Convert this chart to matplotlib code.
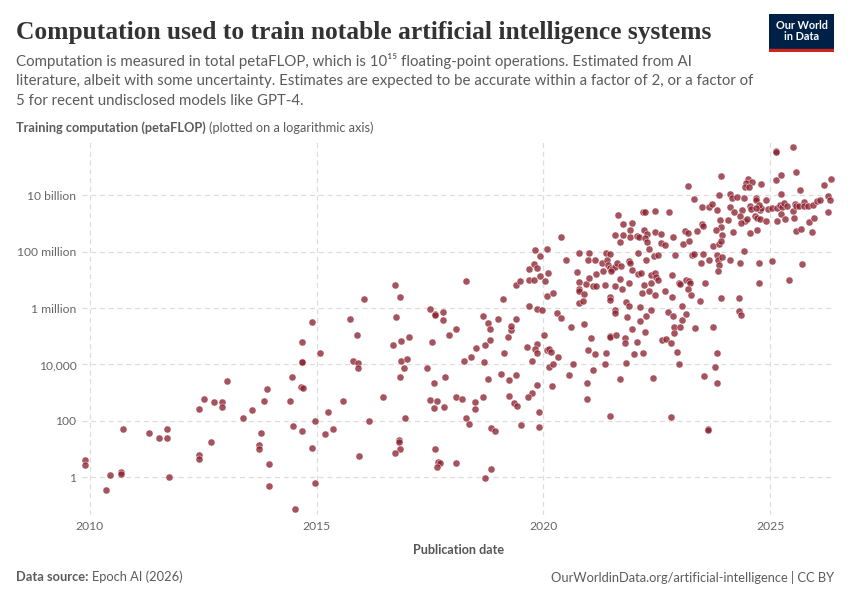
#!/usr/bin/env python3
"""
Computation used to train notable AI systems (petaFLOP, log axis), OWID style.
"""

import matplotlib
matplotlib.use('Agg')
import matplotlib.pyplot as plt
import numpy as np

# publication dates (decimal years) and log10 of training compute (petaFLOP)
years_2010s = [2009.90, 2009.90, 2010.35, 2010.44, 2010.68, 2010.68, 2010.74, 2011.30, 2011.52, 2011.70,
               2011.70, 2011.74, 2012.40, 2012.51, 2012.74, 2012.91, 2012.91, 2013.02, 2012.40, 2012.40,
               2012.67, 2013.37, 2013.57, 2013.84, 2013.90, 2013.77, 2013.73, 2013.73, 2013.95, 2013.95,
               2014.53, 2014.97, 2014.90, 2014.49, 2014.69, 2014.96, 2014.42, 2014.45, 2014.66, 2014.70,
               2014.67, 2014.67, 2014.69, 2014.90]
logc_2010s = [0.62, 0.45, -0.43, 0.07, 0.18, 0.11, 1.73, 1.59, 1.41, 1.73,
              1.41, 0.00, 2.44, 2.79, 2.68, 2.68, 2.51, 3.42, 0.81, 0.64,
              1.24, 2.12, 2.40, 2.72, 3.14, 1.59, 1.16, 0.99, 0.46, -0.32,
              -1.11, -0.19, 1.05, 1.83, 1.66, 2.01, 2.72, 3.54, 3.22, 3.18,
              4.08, 4.10, 4.78, 5.49]

years_2015 = [2015.08, 2015.26, 2015.19, 2015.37, 2015.59, 2015.74, 2015.90, 2015.81, 2015.92, 2015.92,
              2016.05, 2016.16, 2015.94, 2016.47, 2016.74, 2016.85, 2016.76, 2016.87, 2017.04, 2016.69,
              2016.87, 2017.00, 2016.93, 2016.85, 2016.96, 2016.82, 2016.82, 2016.85, 2016.74, 2017.51,
              2017.61, 2017.62, 2017.79, 2017.79, 2018.08, 2017.93, 2017.55, 2017.44, 2017.60, 2017.84,
              2017.51, 2017.65, 2017.60, 2017.82, 2018.08, 2018.21, 2017.62, 2017.68, 2017.73, 2017.66,
              2018.08, 2018.26, 2018.30, 2018.30, 2018.84, 2018.71]
logc_2015 = [4.39, 2.30, 1.55, 1.73, 2.69, 5.60, 5.03, 4.11, 4.04, 3.86,
             6.31, 2.01, 0.77, 2.86, 6.83, 6.38, 5.67, 4.82, 4.99, 4.68,
             4.11, 4.18, 3.86, 3.54, 2.12, 1.34, 1.25, 1.02, 0.88, 5.95,
             5.79, 5.76, 5.85, 5.56, 5.25, 5.03, 4.78, 3.89, 3.33, 3.54,
             2.76, 2.69, 2.47, 2.51, 2.86, 2.79, 1.02, 0.56, 0.52, 0.38,
             0.52, 4.14, 6.95, 2.12, 0.31, -0.01]

years_2018 = [2018.36, 2018.41, 2018.51, 2018.50, 2018.50, 2018.66, 2018.77, 2018.83, 2018.72, 2018.83,
              2018.70, 2018.79, 2018.66, 2018.85, 2018.94, 2019.01, 2019.12, 2019.14, 2019.07, 2019.25,
              2019.40, 2019.25, 2019.36, 2019.43, 2019.23, 2019.29, 2019.29, 2019.40, 2019.40, 2019.49,
              2019.51, 2019.63, 2019.69, 2019.69, 2019.69, 2019.80, 2019.80, 2019.82, 2019.85, 2019.93,
              2019.93, 2020.07, 2020.11, 2020.04, 2019.85, 2019.96, 2020.09, 2020.22, 2020.02, 2019.87,
              2019.82, 2019.85, 2019.74, 2019.87, 2019.74, 2019.67, 2019.91, 2019.91, 2020.09, 2020.13,
              2020.18, 2020.13, 2020.22, 2020.20, 2020.33, 2020.31, 2020.40, 2020.40, 2020.49, 2020.60,
              2020.57, 2020.66, 2020.79, 2020.75, 2020.79, 2020.79, 2020.79, 2020.79, 2020.90, 2020.88,
              2020.90, 2020.95, 2021.01, 2021.01, 2020.99, 2021.04, 2020.99, 2021.15, 2021.10, 2021.17,
              2021.17, 2021.15, 2021.10, 2020.97, 2020.97, 2021.35, 2021.32, 2021.30, 2021.39, 2021.48,
              2021.41, 2021.43, 2021.46, 2021.52, 2021.57, 2021.63, 2021.72, 2021.50, 2021.46, 2021.46,
              2021.59, 2021.59, 2021.46, 2021.48, 2021.39, 2021.37, 2021.46, 2021.57, 2021.70, 2021.74,
              2021.61, 2021.68, 2021.76, 2021.76, 2021.59, 2021.68, 2021.83, 2021.88, 2021.85, 2021.88,
              2021.88, 2021.81, 2021.79, 2021.83, 2021.64]
logc_2018 = [1.88, 4.26, 4.58, 2.66, 2.41, 5.72, 5.47, 5.25, 4.69, 4.86,
             4.08, 3.48, 2.84, 1.74, 1.63, 5.61, 6.32, 4.40, 3.66, 3.44,
             3.62, 2.88, 2.63, 2.52, 4.97, 5.22, 5.36, 5.61, 6.82, 6.96,
             1.85, 4.62, 6.07, 6.99, 7.38, 6.99, 7.56, 8.06, 7.42, 7.85,
             7.14, 8.09, 7.24, 6.96, 5.96, 5.93, 6.43, 6.53, 5.04, 4.72,
             4.54, 4.40, 4.12, 3.27, 2.98, 2.84, 2.31, 1.78, 4.51, 4.54,
             4.44, 3.91, 4.01, 3.23, 4.26, 5.82, 5.64, 8.52, 7.70, 5.33,
             3.62, 4.01, 7.95, 7.28, 6.92, 6.67, 6.60, 6.18, 6.50, 6.25,
             5.43, 6.85, 7.07, 7.95, 7.70, 4.93, 4.51, 7.70, 6.78, 6.78,
             7.21, 4.37, 3.80, 3.34, 2.77, 6.82, 7.31, 7.60, 7.95, 7.92,
             7.70, 7.53, 7.42, 7.38, 7.46, 7.60, 7.49, 7.31, 6.39, 6.28,
             5.93, 5.82, 5.01, 4.97, 4.40, 4.01, 2.17, 6.78, 7.03, 6.67,
             5.04, 3.48, 8.97, 8.59, 8.59, 8.34, 6.21, 6.07, 5.68, 7.67,
             6.89, 4.93, 4.76, 4.05, 9.30]

years_2022 = [2023.19, 2023.91, 2023.33, 2023.87, 2022.19, 2022.24, 2022.46, 2022.77, 2023.49, 2023.65,
              2023.71, 2023.82, 2024.11, 2023.89, 2024.07, 2021.96, 2023.49, 2023.52, 2023.38, 2023.12,
              2023.19, 2023.91, 2023.80, 2022.22, 2022.46, 2022.59, 2021.91, 2021.91, 2022.06, 2022.10,
              2022.28, 2022.24, 2022.86, 2023.93,
              2022.28, 2022.59, 2022.68, 2023.08, 2023.21, 2023.74, 2023.87, 2023.91, 2022.33, 2022.09,
              2022.44, 2022.53, 2022.90, 2023.28, 2023.33, 2023.52, 2023.65, 2023.47, 2023.83, 2023.85,
              2023.87, 2023.94, 2023.85, 2022.26, 2021.91, 2021.96, 2022.09, 2022.15, 2022.38, 2022.47,
              2022.49, 2022.52, 2022.83, 2023.00, 2023.01, 2023.15, 2023.21, 2023.24, 2023.19, 2023.25,
              2023.56, 2023.45, 2023.91, 2022.21, 2022.18, 2022.37, 2022.33, 2022.47, 2022.69, 2022.83,
              2022.13, 2022.37, 2022.27, 2022.13, 2021.96, 2022.24, 2022.75, 2022.86, 2023.06, 2023.15,
              2023.06, 2022.87, 2022.87, 2023.02, 2023.34, 2023.74, 2022.62, 2022.71, 2022.81, 2022.06,
              2021.99, 2022.19, 2022.94, 2023.83, 2022.99, 2023.78, 2022.41, 2023.54, 2023.83, 2022.81,
              2023.63, 2023.64]
logc_2022 = [10.33, 10.68, 9.86, 10.01, 9.41, 9.41, 9.45, 9.41, 9.59, 9.59,
             9.69, 9.48, 9.59, 9.13, 9.13, 9.02, 8.99, 8.91, 8.74, 8.74,
             8.67, 8.88, 8.77, 8.77, 8.70, 8.63, 8.78, 8.52, 8.56, 8.52,
             8.63, 8.49, 8.52, 8.60,
             8.35, 8.31, 8.24, 8.28, 8.38, 8.21, 8.28, 8.38, 8.10, 7.96,
             7.85, 7.89, 7.89, 7.89, 7.92, 7.92, 7.71, 7.60, 7.89, 7.70,
             7.53, 7.82, 7.32, 7.71, 7.60, 7.35, 7.21, 7.25, 7.18, 7.25,
             7.11, 7.00, 7.18, 6.87, 6.85, 6.99, 6.97, 6.87, 6.68, 6.47,
             6.90, 6.26, 6.37, 6.83, 6.54, 6.87, 6.61, 6.45, 6.61, 6.40,
             6.05, 5.93, 5.73, 5.54, 5.26, 5.16, 5.87, 5.73, 6.08, 5.80,
             5.56, 5.34, 5.13, 5.34, 5.28, 5.34, 4.85, 4.90, 4.77, 4.81,
             4.38, 4.42, 4.45, 4.42, 4.03, 3.92, 3.53, 3.60, 3.36, 2.15,
             1.70, 1.68]

years_2024 = [2025.12, 2025.13, 2025.50, 2025.57, 2025.24, 2025.13, 2024.52, 2024.47, 2024.59, 2024.44,
              2024.54, 2024.80, 2025.66, 2026.18, 2026.35, 2025.24, 2026.27, 2024.12, 2024.16, 2024.27,
              2024.43, 2024.69, 2024.69, 2024.91, 2026.31, 2024.20, 2024.39, 2024.55, 2024.57, 2024.77,
              2024.80, 2024.75, 2024.68, 2024.95, 2025.04, 2025.15, 2025.21, 2025.26, 2025.31, 2025.38,
              2025.50, 2025.55, 2025.57, 2025.63, 2025.74, 2025.74, 2025.83, 2025.94, 2026.04, 2026.09,
              2024.33, 2024.45, 2024.48, 2024.66, 2024.71, 2024.77, 2024.90, 2025.16, 2025.24, 2025.32,
              2025.52, 2025.85, 2025.96, 2026.27, 2024.35, 2024.55, 2024.71, 2025.57, 2025.68, 2025.92,
              2024.18,
              2024.42, 2024.12, 2024.33, 2024.75, 2025.04, 2025.70, 2024.75, 2025.41, 2024.32, 2024.31,
              2024.35]
logc_2024 = [11.56, 11.53, 11.71, 10.81, 10.72, 10.54, 10.57, 10.44, 10.46, 10.27,
             10.30, 10.40, 10.19, 10.37, 10.58, 10.05, 9.98, 10.05, 9.91, 9.92,
             9.91, 9.90, 9.83, 9.82, 9.82, 9.41, 9.48, 9.63, 9.50, 9.48,
             9.53, 9.66, 9.53, 9.52, 9.54, 9.55, 9.65, 9.56, 9.72, 9.61,
             9.44, 9.70, 9.61, 9.61, 9.74, 9.61, 9.63, 9.65, 9.78, 9.82,
             9.27, 9.08, 9.15, 9.26, 9.19, 9.16, 9.09, 9.09, 9.34, 9.16,
             9.19, 9.04, 9.20, 9.41, 9.02, 8.67, 8.77, 8.74, 8.81, 8.70,
             8.70,
             8.02, 7.71, 7.60, 7.60, 7.68, 7.57, 6.90, 7.00, 6.37, 5.91,
             5.75]

tick_values = [1, 100, 1e4, 1e6, 1e8, 1e10]
tick_labels = ['1', '100', '10,000', '1 million', '100 million', '10 billion']
year_ticks = [2010, 2015, 2020, 2025]

W, H = 850, 600
TEXT = '#5b5b5b'
DOT = '#8c2230'


def fx(px):
    return px / W


def fy(py):
    return 1 - py / H


def chart():
    years = np.array(years_2010s + years_2015 + years_2018 + years_2022 + years_2024)
    compute = 10.0 ** np.array(logc_2010s + logc_2015 + logc_2018 + logc_2022 + logc_2024)

    fig = plt.figure(figsize=(8.5, 6), dpi=100)
    fig.patch.set_facecolor('white')

    ax = fig.add_axes([fx(82), fy(515), fx(835) - fx(82), fy(140) - fy(515)])
    ax.scatter(years, compute, s=26, color=DOT, alpha=0.78,
               edgecolors='white', linewidths=0.4, zorder=3)

    ax.set_yscale('log')
    ax.set_xlim(2009.83, 2026.43)
    ax.set_ylim(10 ** -1.33, 10 ** 11.95)
    ax.set_yticks(tick_values)
    ax.set_yticklabels(tick_labels)
    ax.yaxis.set_minor_locator(matplotlib.ticker.NullLocator())
    ax.set_xticks(year_ticks)
    ax.set_xticklabels([str(y) for y in year_ticks])
    for s in ax.spines.values():
        s.set_visible(False)
    ax.tick_params(length=0, labelsize=8.7, colors='#666666', pad=4)
    ax.grid(True, color='#dddddd', linestyle=(0, (4, 3)), linewidth=0.9, zorder=0)
    for lab in ax.get_xticklabels() + ax.get_yticklabels():
        lab.set_family('Lato')

    ax.set_xlabel('Publication date', fontsize=9.1, color='#555555', family='Lato',
                  fontweight='bold', labelpad=9)

    # title and subtitle
    fig.text(fx(16), fy(39), 'Computation used to train notable artificial intelligence systems',
             fontsize=18.4, fontweight='bold', family='Liberation Serif', color='#333333',
             va='baseline')
    sub = ['Computation is measured in total petaFLOP, which is 10\u00b9\u2075 floating-point operations. Estimated from AI',
           'literature, albeit with some uncertainty. Estimates are expected to be accurate within a factor of 2, or a factor of',
           '5 for recent undisclosed models like GPT-4.']
    for i, line in enumerate(sub):
        fig.text(fx(16), fy(61 + 20 * i), line, fontsize=10.8, family=['Lato', 'DejaVu Sans'],
                 color=TEXT, va='center')

    # axis title, bold part then plain part
    r = fig.canvas.get_renderer()
    t1 = fig.text(fx(16), fy(128), 'Training computation (petaFLOP)', fontsize=9.2,
                  fontweight='bold', family='Lato', color=TEXT, va='center')
    bb = t1.get_window_extent(renderer=r)
    fig.text(bb.x1 / W + 0.004, fy(128), '(plotted on a logarithmic axis)', fontsize=9.2,
             family='Lato', color=TEXT, va='center')

    # footer
    t2 = fig.text(fx(16), fy(577), 'Data source:', fontsize=9.3, fontweight='bold',
                  family='Lato', color=TEXT, va='center')
    bb = t2.get_window_extent(renderer=r)
    fig.text(bb.x1 / W + 0.004, fy(577), 'Epoch AI (2026)', fontsize=9.3,
             family='Lato', color=TEXT, va='center')
    fig.text(fx(834), fy(577), 'OurWorldinData.org/artificial-intelligence | CC BY', fontsize=9.3,
             family='Lato', color=TEXT, va='center', ha='right')

    # logo
    logo = fig.add_axes([fx(769), fy(52), fx(834) - fx(769), fy(14) - fy(52)])
    logo.set_xlim(0, 1)
    logo.set_ylim(0, 1)
    logo.axis('off')
    logo.add_patch(plt.Rectangle((0, 0), 1, 1, color='#002147'))
    logo.add_patch(plt.Rectangle((0, 0), 1, 0.07, color='#ce261e'))
    logo.text(0.5, 0.55, 'Our World\nin Data', color='white', fontsize=7.8, family='Lato',
              fontweight='bold', ha='center', va='center', linespacing=1.05)

    fig.savefig('out.png', dpi=100, facecolor='white')


if __name__ == '__main__':
    chart()
